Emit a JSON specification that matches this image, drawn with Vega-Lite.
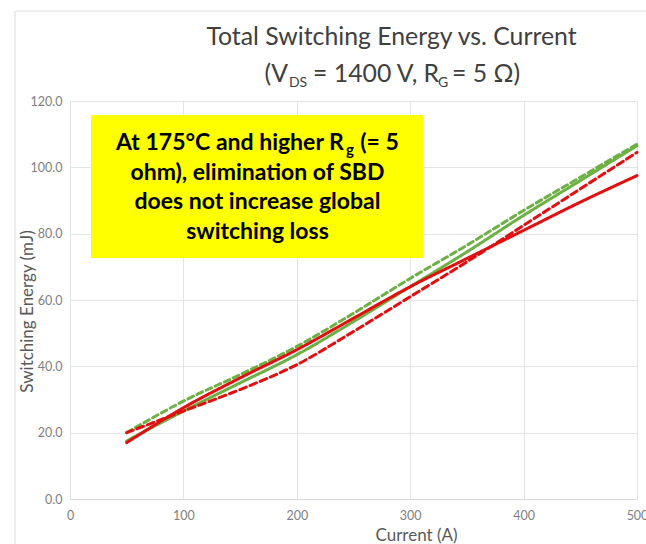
{
  "$schema": "https://vega.github.io/schema/vega-lite/v6.json",
  "width": 567,
  "height": 398,
  "autosize": "none",
  "padding": {"left": 70, "top": 101, "right": 9, "bottom": 45},
  "background": "white",
  "config": {"font": "Lato", "view": {"stroke": null}},
  "title": {
    "text": "Total Switching Energy vs. Current",
    "frame": "group",
    "anchor": "middle",
    "baseline": "alphabetic",
    "offset": -59,
    "dx": 38,
    "fontSize": 24.8,
    "fontWeight": "normal",
    "color": "#404040"
  },
  "datasets": {
    "energy": [
      {"series": "Series 1", "current": 50, "energy": 20},
      {"series": "Series 1", "current": 100, "energy": 29.5},
      {"series": "Series 1", "current": 150, "energy": 37.5},
      {"series": "Series 1", "current": 200, "energy": 46},
      {"series": "Series 1", "current": 250, "energy": 56},
      {"series": "Series 1", "current": 300, "energy": 66.5},
      {"series": "Series 1", "current": 350, "energy": 76.5},
      {"series": "Series 1", "current": 400, "energy": 87},
      {"series": "Series 1", "current": 450, "energy": 97},
      {"series": "Series 1", "current": 500, "energy": 107},
      {"series": "Series 2", "current": 50, "energy": 17.5},
      {"series": "Series 2", "current": 100, "energy": 26.5},
      {"series": "Series 2", "current": 150, "energy": 35},
      {"series": "Series 2", "current": 200, "energy": 43.5},
      {"series": "Series 2", "current": 250, "energy": 53.5},
      {"series": "Series 2", "current": 300, "energy": 64},
      {"series": "Series 2", "current": 350, "energy": 74.5},
      {"series": "Series 2", "current": 400, "energy": 85.5},
      {"series": "Series 2", "current": 450, "energy": 96},
      {"series": "Series 2", "current": 500, "energy": 106.5},
      {"series": "Series 3", "current": 50, "energy": 20},
      {"series": "Series 3", "current": 100, "energy": 26.5},
      {"series": "Series 3", "current": 150, "energy": 33},
      {"series": "Series 3", "current": 200, "energy": 40.5},
      {"series": "Series 3", "current": 250, "energy": 50.5},
      {"series": "Series 3", "current": 300, "energy": 61},
      {"series": "Series 3", "current": 350, "energy": 71.5},
      {"series": "Series 3", "current": 400, "energy": 82.5},
      {"series": "Series 3", "current": 450, "energy": 93.5},
      {"series": "Series 3", "current": 500, "energy": 104.5},
      {"series": "Series 4", "current": 50, "energy": 17},
      {"series": "Series 4", "current": 100, "energy": 27.5},
      {"series": "Series 4", "current": 150, "energy": 36.5},
      {"series": "Series 4", "current": 200, "energy": 45},
      {"series": "Series 4", "current": 250, "energy": 54.5},
      {"series": "Series 4", "current": 300, "energy": 64},
      {"series": "Series 4", "current": 350, "energy": 72.5},
      {"series": "Series 4", "current": 400, "energy": 81},
      {"series": "Series 4", "current": 450, "energy": 89.5},
      {"series": "Series 4", "current": 500, "energy": 97.5}
    ]
  },
  "layer": [
    {
      "data": {"name": "energy"},
      "mark": {"type": "line", "interpolate": "monotone", "strokeWidth": 3, "strokeCap": "round"},
      "encoding": {
        "x": {
          "field": "current",
          "type": "quantitative",
          "scale": {"domain": [0, 500], "nice": false},
          "axis": {
            "values": [0, 100, 200, 300, 400, 500],
            "grid": true,
            "gridColor": "#e4e4e4",
            "domainColor": "#d9d9d9",
            "ticks": false,
            "labelFontSize": 12.5,
            "labelColor": "#7f7f7f",
            "labelPadding": 10,
            "labelFlush": false,
            "title": "Current (A)",
            "titleFontSize": 17,
            "titleFontWeight": "normal",
            "titleColor": "#595959",
            "titleX": 346,
            "titleY": 36,
            "titleBaseline": "middle"
          }
        },
        "y": {
          "field": "energy",
          "type": "quantitative",
          "scale": {"domain": [0, 120], "nice": false},
          "axis": {
            "values": [0, 20, 40, 60, 80, 100, 120],
            "format": ".1f",
            "grid": true,
            "gridColor": "#e4e4e4",
            "domain": false,
            "ticks": false,
            "labelFontSize": 12.5,
            "labelColor": "#7f7f7f",
            "labelPadding": 8,
            "title": "Switching Energy (mJ)",
            "titleFontSize": 17,
            "titleFontWeight": "normal",
            "titleColor": "#595959",
            "titleX": -43,
            "titleY": 210,
            "titleAlign": "center",
            "titleBaseline": "middle"
          }
        },
        "color": {
          "field": "series",
          "type": "nominal",
          "scale": {
            "domain": ["Series 1", "Series 2", "Series 3", "Series 4"],
            "range": ["#6db043", "#6db043", "#e01010", "#e01010"]
          },
          "legend": null
        },
        "strokeDash": {
          "field": "series",
          "type": "nominal",
          "scale": {
            "domain": ["Series 1", "Series 2", "Series 3", "Series 4"],
            "range": [[6, 4], [1, 0], [7, 4], [1, 0]]
          },
          "legend": null
        }
      }
    },
    {
      "data": {"values": [{}]},
      "mark": {"type": "rect", "fill": "#ffff00"},
      "encoding": {
        "x": {"datum": 18.5},
        "x2": {"datum": 311.3},
        "y": {"datum": 115.8},
        "y2": {"datum": 72.7}
      }
    },
    {
      "data": {"values": [{}]},
      "mark": {"type": "text", "text": "At 175°C and higher R", "align": "right", "baseline": "alphabetic", "fontSize": 23, "fontWeight": "bold", "color": "black"},
      "encoding": {"x": {"datum": 241.5}, "y": {"datum": 105.2}}
    },
    {
      "data": {"values": [{}]},
      "mark": {"type": "text", "text": "g", "align": "left", "baseline": "alphabetic", "fontSize": 15, "fontWeight": "bold", "color": "black"},
      "encoding": {"x": {"datum": 243.3}, "y": {"datum": 103.7}}
    },
    {
      "data": {"values": [{}]},
      "mark": {"type": "text", "text": "(= 5", "align": "left", "baseline": "alphabetic", "fontSize": 23, "fontWeight": "bold", "color": "black"},
      "encoding": {"x": {"datum": 256}, "y": {"datum": 105.2}}
    },
    {
      "data": {"values": [{}]},
      "mark": {
        "type": "text",
        "text": ["ohm), elimination of SBD", "does not increase global", "switching loss"],
        "lineHeight": 29.5,
        "align": "center",
        "baseline": "alphabetic",
        "fontSize": 23,
        "fontWeight": "bold",
        "color": "black"
      },
      "encoding": {"x": {"datum": 165.3}, "y": {"datum": 96.3}}
    },
    {
      "data": {"values": [{}]},
      "mark": {"type": "text", "text": "(V", "align": "right", "baseline": "alphabetic", "fontSize": 24.8, "color": "#404040"},
      "encoding": {"x": {"datum": 192.2}, "y": {"datum": 125.7}}
    },
    {
      "data": {"values": [{}]},
      "mark": {"type": "text", "text": "DS", "align": "left", "baseline": "alphabetic", "fontSize": 14, "color": "#404040"},
      "encoding": {"x": {"datum": 193.1}, "y": {"datum": 124.2}}
    },
    {
      "data": {"values": [{}]},
      "mark": {"type": "text", "text": "= 1400 V, R", "align": "left", "baseline": "alphabetic", "fontSize": 24.8, "color": "#404040"},
      "encoding": {"x": {"datum": 214.3}, "y": {"datum": 125.7}}
    },
    {
      "data": {"values": [{}]},
      "mark": {"type": "text", "text": "G", "align": "left", "baseline": "alphabetic", "fontSize": 14, "color": "#404040"},
      "encoding": {"x": {"datum": 324.5}, "y": {"datum": 124.2}}
    },
    {
      "data": {"values": [{}]},
      "mark": {"type": "text", "text": "= 5 Ω)", "align": "left", "baseline": "alphabetic", "fontSize": 24.8, "color": "#404040"},
      "encoding": {"x": {"datum": 336.9}, "y": {"datum": 125.7}}
    },
    {
      "data": {"values": [{}]},
      "mark": {"type": "rect", "fill": null, "stroke": "#dcdcdc", "strokeWidth": 1},
      "encoding": {
        "x": {"datum": -48.5},
        "x2": {"datum": 600},
        "y": {"datum": 147.1},
        "y2": {"datum": -30}
      }
    }
  ]
}
